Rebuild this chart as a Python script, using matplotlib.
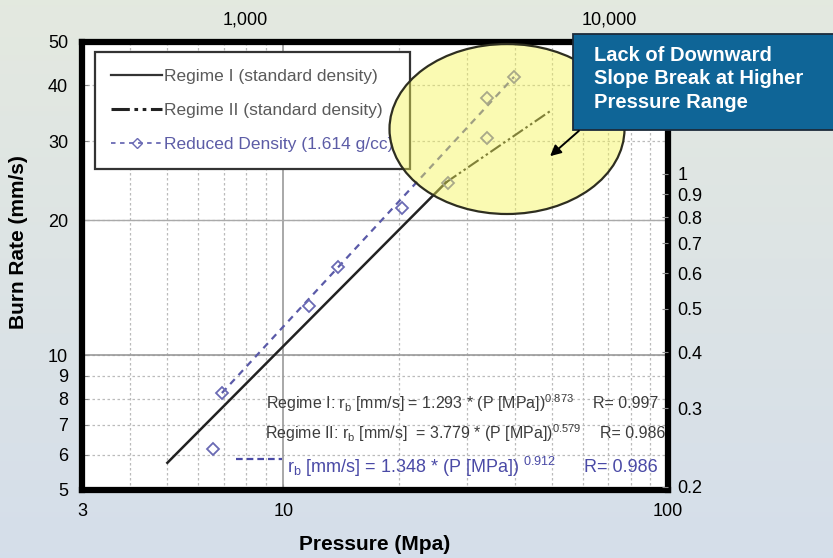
import numpy as np
import matplotlib.pyplot as plt
from matplotlib.lines import Line2D
from matplotlib.patches import Ellipse, Rectangle, FancyArrowPatch
from matplotlib.ticker import NullLocator, NullFormatter

plt.rcParams['font.family'] = ['Liberation Sans', 'DejaVu Sans']
plt.rcParams['mathtext.fontset'] = 'custom'
plt.rcParams['mathtext.rm'] = 'Liberation Sans'
plt.rcParams['mathtext.default'] = 'regular'

# burn rate (mm/s) against pressure (MPa)
regime1_p = [5.0, 26.5]
regime1_r = [5.75, 24.3]
regime2_p = [26.5, 50.0]
regime2_r = [24.3, 35.3]
reduced_p = [6.57, 6.93, 11.7, 13.9, 20.4, 26.8, 33.8, 33.8, 39.8]
reduced_r = [6.17, 8.23, 12.9, 15.7, 21.3, 24.2, 30.5, 37.5, 41.8]
reduced_fit_p = [6.93, 39.8]
reduced_fit_r = [8.23, 41.8]

left_ticks = [5, 6, 7, 8, 9, 10, 20, 30, 40, 50]
bottom_ticks = [3, 10, 100]
top_ticks = [1000, 10000]
top_labels = ['1,000', '10,000']
right_ticks = [0.2, 0.3, 0.4, 0.5, 0.6, 0.7, 0.8, 0.9, 1.0]
right_labels = ['0.2', '0.3', '0.4', '0.5', '0.6', '0.7', '0.8', '0.9', '1']

legend_labels = ['Regime I (standard density)',
                 'Regime II (standard density)',
                 'Reduced Density (1.614 g/cc)']
fits = [
    ('Regime I: r$_b$ [mm/s] = 1.293 * (P [MPa])$^{0.873}$', 'R= 0.997'),
    ('Regime II: r$_b$ [mm/s]  = 3.779 * (P [MPa])$^{0.579}$', 'R= 0.986'),
    ('r$_b$ [mm/s] = 1.348 * (P [MPa]) $^{0.912}$', 'R= 0.986'),
]
callout = 'Lack of Downward\nSlope Break at Higher\nPressure Range'

W, H = 833, 558
fig = plt.figure(figsize=(W / 100, H / 100), dpi=100)

# slide background gradient
bg = fig.add_axes([0, 0, 1, 1], zorder=-10)
top_c = np.array([0.894, 0.914, 0.878])
bot_c = np.array([0.835, 0.871, 0.918])
t = np.linspace(0, 1, 256)[:, None, None]
grad = top_c * (1 - t) + bot_c * t
bg.imshow(np.repeat(grad, 4, axis=1), aspect='auto', extent=[0, 1, 0, 1])
bg.axis('off')

x0, x1, y0, y1 = 82, 668, 42, 490


def ax_frac(px, py):
    return (px - x0) / (x1 - x0), (y1 - py) / (y1 - y0)


ax = fig.add_axes([x0 / W, 1 - y1 / H, (x1 - x0) / W, (y1 - y0) / H])
ax.set_facecolor('white')
ax.set_xscale('log')
ax.set_yscale('log')
ax.set_xlim(3, 100)
ax.set_ylim(5, 50)

ax.set_xticks(bottom_ticks, [str(v) for v in bottom_ticks])
ax.xaxis.set_minor_formatter(NullFormatter())
ax.set_yticks(left_ticks, [str(v) for v in left_ticks])
ax.yaxis.set_minor_locator(NullLocator())
ax.tick_params(which='both', direction='in', color='#888888', labelsize=13)
ax.tick_params(axis='x', which='major', length=4, pad=9)
ax.tick_params(axis='x', which='minor', length=2)
ax.tick_params(axis='y', length=4, pad=10)

# grid
ax.grid(which='minor', axis='x', color='#bbbbbb', ls=(0, (2, 2)), lw=0.9)
ax.grid(which='major', axis='y', color='#bbbbbb', ls=(0, (2, 2)), lw=0.9)
ax.axvline(10, color='#999999', lw=1.2, zorder=1)
ax.axhline(10, color='#999999', lw=1.2, zorder=1)
ax.axhline(20, color='#aaaaaa', lw=1.0, zorder=1)
ax.set_axisbelow(True)
for s in ax.spines.values():
    s.set_linewidth(4.5)
    s.set_color('black')

ax.plot(regime1_p, regime1_r, color='#222222', lw=1.8, zorder=3)
ax.plot(regime2_p, regime2_r, color='#222222', lw=1.5,
        ls=(0, (6, 1.5, 1.2, 1.5, 1.2, 1.5)), zorder=3)
ax.plot(reduced_fit_p, reduced_fit_r, color='#5a5aa8', lw=1.6,
        ls=(0, (3, 2.5)), zorder=3)
ax.plot(reduced_p, reduced_r, ls='none', marker='D', ms=6.5, mfc='none',
        mec='#6a6ab4', mew=1.3, zorder=4)

handles = [
    Line2D([], [], color='#333333', lw=1.6),
    Line2D([], [], color='#222222', lw=2.2, ls=(0, (6, 1.5, 1.2, 1.5, 1.2, 1.5))),
    Line2D([], [], color='#6a6ab4', lw=1.3, ls=(0, (2.5, 2.5)), marker='D',
           ms=5, mfc='none', mec='#6a6ab4'),
]
leg = ax.legend(handles, legend_labels, loc='upper left',
                bbox_to_anchor=ax_frac(95, 52),
                borderaxespad=0, fontsize=12.5, handlelength=2.9,
                handletextpad=0.15, labelspacing=1.1, borderpad=0.95,
                fancybox=False, framealpha=1, edgecolor='#333333')
leg.get_frame().set_linewidth(1.6)
for txt, c in zip(leg.get_texts(), ['#5a5a5a', '#5a5a5a', '#5c5ca6']):
    txt.set_color(c)
leg.set_zorder(5)

# fit equations
eq_pos = [(266, 403, 593, 11.5, '#3c3c3c'),
          (265, 433, 600, 11.5, '#3c3c3c'),
          (287, 467, 584, 13, '#4a4aa6')]
for (eq, rval), (ex, ey, rx, fs, c) in zip(fits, eq_pos):
    ax.text(*ax_frac(ex, ey), eq, transform=ax.transAxes, fontsize=fs,
            color=c, va='center', zorder=4)
    ax.text(*ax_frac(rx, ey), rval, transform=ax.transAxes, fontsize=fs,
            color=c, va='center', zorder=4, clip_on=True)
ax.plot([ax_frac(236, 0)[0], ax_frac(282, 0)[0]],
        [ax_frac(0, 459)[1]] * 2, transform=ax.transAxes,
        color='#4a4aa6', lw=1.6, ls=(0, (3, 1.8)), zorder=4)

# highlight ellipse
ell_c = ax_frac(507, 129)
ax.add_patch(Ellipse(ell_c, 235 / (x1 - x0), 170 / (y1 - y0),
                     transform=ax.transAxes, facecolor='#f4f455',
                     alpha=0.45, edgecolor='none', zorder=6))
ax.add_patch(Ellipse(ell_c, 235 / (x1 - x0), 170 / (y1 - y0),
                     transform=ax.transAxes, facecolor='none',
                     edgecolor='#2e2e20', lw=1.6, zorder=7))

# top axis in psi
ax_t = ax.twiny()
ax_t.set_xscale('log')
ax_t.set_xlim(355, 14500)
ax_t.set_xticks(top_ticks, top_labels)
ax_t.xaxis.set_minor_locator(NullLocator())
ax_t.tick_params(axis='x', direction='in', length=0, pad=10, labelsize=13)

# right axis in in/s
ax_r = ax.twinx()
ax_r.set_yscale('log')
ax_r.set_ylim(5 / 25.4, 50 / 25.4)
ax_r.set_yticks(right_ticks, right_labels)
ax_r.yaxis.set_minor_locator(NullLocator())
ax_r.tick_params(axis='y', direction='in', length=4, color='#888888',
                 pad=7, labelsize=13)
for a in (ax_t, ax_r):
    for s in a.spines.values():
        s.set_visible(False)

fig.text(375 / W, 1 - 545 / H, 'Pressure (Mpa)', fontsize=15,
         weight='bold', ha='center', va='center')
fig.text(19 / W, 1 - 242 / H, 'Burn Rate (mm/s)', fontsize=15,
         weight='bold', ha='center', va='center', rotation=90)

# callout box and arrow
fig.add_artist(Rectangle((573 / W, 1 - 130 / H), 0.4, 96 / H,
                         transform=fig.transFigure, facecolor='#0f6597',
                         edgecolor='#1c2b3a', lw=1.3, zorder=3))
fig.text(594 / W, 1 - 46 / H, callout, color='white', fontsize=14.5,
         weight='bold', ha='left', va='top', linespacing=1.3, zorder=4)
fig.add_artist(FancyArrowPatch((581 / W, 1 - 129 / H), (548 / W, 1 - 158 / H),
                               transform=fig.transFigure, arrowstyle='-|>',
                               mutation_scale=16, color='black', lw=1.4,
                               zorder=5))

fig.savefig('out.png', dpi=100)
